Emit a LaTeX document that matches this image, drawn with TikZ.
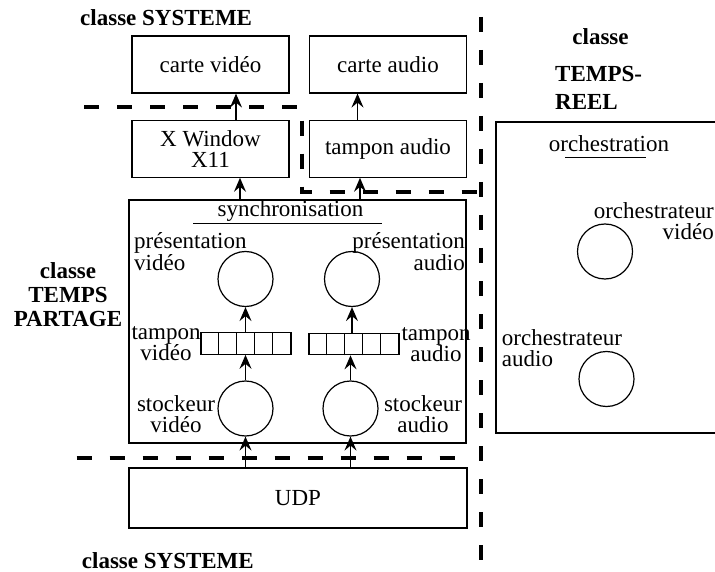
\documentclass[tikz,border=0pt]{standalone}
\usepackage{fontspec}
\setmainfont{Liberation Serif}
\usetikzlibrary{arrows.meta,positioning}
\tikzset{
  boite/.style={draw, line width=1.2pt, minimum width=157pt, minimum height=57pt, inner sep=0pt, align=center},
  cadre/.style={draw, line width=1.2pt, inner sep=0pt},
  proc/.style={draw, circle, line width=1.2pt, minimum size=55pt, inner sep=0pt},
  tampon/.style={draw, line width=1.2pt, minimum width=90pt, minimum height=21.5pt, inner sep=0pt},
  etiq/.style={inner sep=0pt},
  classe/.style={inner sep=0pt, font=\fontsize{23}{24}\selectfont\bfseries},
  fleche/.style={-{Stealth[length=14pt, width=12pt, inset=5pt]}, line width=1.2pt},
  limite/.style={line width=4pt, dash pattern=on 15pt off 18pt},
}

\begin{document}
\begin{tikzpicture}[x=1pt, y=-1pt, font=\fontsize{23}{21}\selectfont]
    \useasboundingbox (0,0) rectangle (715,572);
    \clip (0,0) rectangle (715,572);
    % classe SYSTEME (haut)
    \node[boite] (cartev) at (210.5,64.5) {carte vidéo};
    \node[boite, below=26pt of cartev] (xwin) {X Window\\X11};
    \node[boite] (cartea) at (388,64.5) {carte audio};
    \node[boite, below=26pt of cartea] (tampa) {tampon audio};
    % classe TEMPS PARTAGE
    \node[cadre, minimum width=337pt, minimum height=243pt] (partage) at (297.5,321.5) {};
    \node[etiq, anchor=base] (sync) at (290.5,217) {synchronisation};
    \node[proc] (presv) at (245.5,279) {};
    \node[proc] (presa) at (352,279) {};
    \node[tampon] (bufv) at (246,343.5) {};
    \node[tampon] (bufa) at (354,344) {};
    \node[proc] (stockv) at (245.5,408.5) {};
    \node[proc] (stocka) at (350.5,408.5) {};
    \foreach \i in {1,...,4} {
      \draw[line width=1.2pt] ([xshift=\i*18pt]bufv.south west) -- ([xshift=\i*18pt]bufv.north west);
      \draw[line width=1.2pt] ([xshift=\i*18pt]bufa.south west) -- ([xshift=\i*18pt]bufa.north west);
    }
    \node[etiq, align=left, anchor=base west] (lpresv) at (134,270) {présentation\\vidéo};
    \node[etiq, align=right, anchor=base east] (lpresa) at (465,270) {présentation\\audio};
    \node[etiq, align=center, anchor=base] (lbufv) at (166,360.5) {tampon\\vidéo};
    \node[etiq, align=center, anchor=base] (lbufa) at (436,361.5) {tampon\\audio};
    \node[etiq, align=center, anchor=base] (lstockv) at (176,432) {stockeur\\vidéo};
    \node[etiq, align=center, anchor=base] (lstocka) at (423,432) {stockeur\\audio};
    % classe SYSTEME (bas)
    \node[boite, minimum width=338pt, minimum height=60pt] (udp) at (298,498) {UDP};
    % classe TEMPS-REEL
    \node[cadre, minimum width=234pt, minimum height=311pt] (reel) at (613,277.5) {};
    \node[etiq, anchor=base] (orch) at (609,151.7) {orchestration};
    \node[proc] (orchv) at (605,251.5) {};
    \node[proc] (orcha) at (606.5,379) {};
    \node[etiq, align=right, anchor=base east] (lorchv) at (714,240) {orchestrateur\\vidéo};
    \node[etiq, align=left, anchor=base west] (lorcha) at (501.7,366.7) {orchestrateur\\audio};
    % soulignements
    \draw[line width=1.2pt] (193,223.3) -- (382,223.3);
    \draw[line width=1.2pt] (565,157.3) -- (645.7,157.3);
    % noms des classes
    \node[classe, anchor=base west] (systh) at (80,26) {classe SYSTEME};
    \node[classe, anchor=base west] (systb) at (81.7,568) {classe SYSTEME};
    \node[classe, align=center, anchor=base] (tpart) at (68,326.7) {classe\\TEMPS\\PARTAGE};
    \node[classe, anchor=base] (treel) at (600.5,45) {classe};
    \node[classe, align=left, anchor=base west, font=\fontsize{23}{28}\selectfont\bfseries] (treel2) at (555,110) {TEMPS-\\REEL};
    % frontieres
    \draw[limite] (84,107.3) -- (301.7,107.3) -- (301.7,191.7) -- (476.7,191.7);
    \draw[limite] (481,17) -- (481,565);
    \draw[limite] (76.7,457.7) -- (462,457.7);
    % flux
    \draw[fleche] ([xshift=25.5pt]xwin.north) -- ([xshift=25.5pt]cartev.south);
    \draw[fleche] ([xshift=29.5pt]xwin.south |- partage.north) -- ([xshift=29.5pt]xwin.south);
    \draw[fleche] ([xshift=-30.5pt]tampa.north) -- ([xshift=-30.5pt]cartea.south);
    \draw[fleche] ([xshift=-28pt]tampa.south |- partage.north) -- ([xshift=-28pt]tampa.south);
    \draw[fleche] (presv.south |- bufv.north) -- (presv.south);
    \draw[fleche] (presa.south |- bufa.north) -- (presa.south);
    \draw[fleche] (stockv.north) -- (stockv.north |- bufv.south);
    \draw[fleche] (stocka.north) -- (stocka.north |- bufa.south);
    \draw[fleche] (stockv.south |- udp.north) -- (stockv.south);
    \draw[fleche] (stocka.south |- udp.north) -- (stocka.south);
\end{tikzpicture}
\end{document}
